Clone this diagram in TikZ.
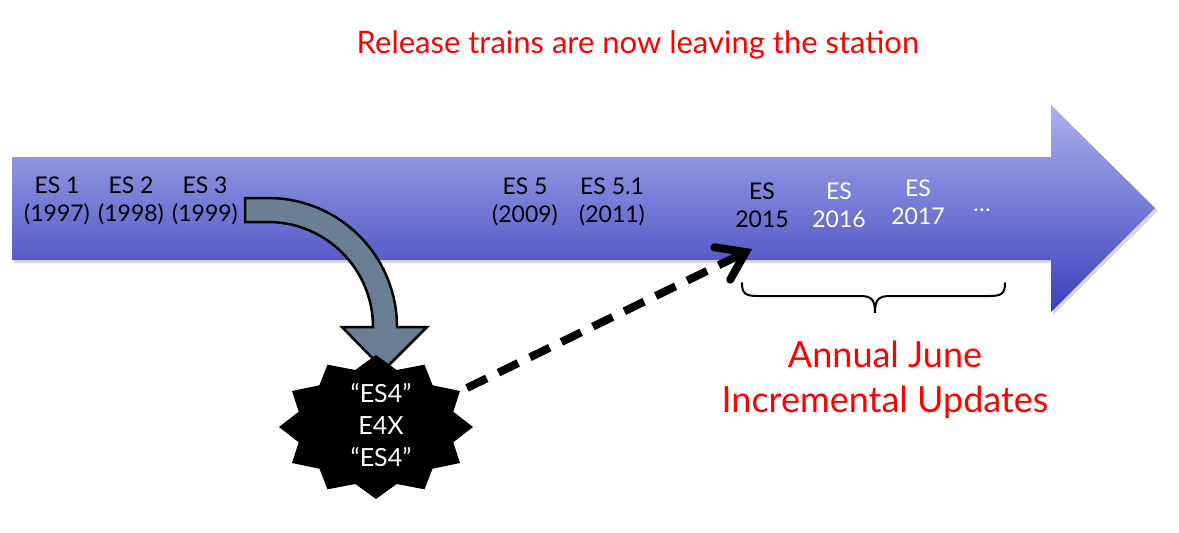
\documentclass[tikz,border=0pt]{standalone}
\usepackage{fontspec}
\setmainfont{Lato}
\usetikzlibrary{arrows.meta}
\definecolor{arrtop}{RGB}{172,176,238}
\definecolor{arrbot}{RGB}{58,64,188}
\definecolor{slate}{RGB}{106,126,148}
\definecolor{titlered}{RGB}{255,0,0}
\begin{document}
\begin{tikzpicture}[x=1pt,y=-1pt,
  lbl/.style={font=\fontsize{23}{28}\selectfont, align=center, inner sep=0pt},
  wlbl/.style={lbl, text=white},
  redtxt/.style={text=titlered, inner sep=0pt, align=center}]
\useasboundingbox (0,0) rectangle (1179,533);
\fill[white] (0,0) rectangle (1179,533);
% big timeline arrow shadow
\fill[black!30, opacity=0.5] (14,160) -- (1053,160) -- (1053,108) -- (1158,211) -- (1053,315) -- (1053,263) -- (14,263) -- cycle;
% big timeline arrow
\shade[top color=arrtop, bottom color=arrbot] (12,157) -- (1051,157) -- (1051,105) -- (1155,208) -- (1051,312) -- (1051,260) -- (12,260) -- cycle;
% title
\node[redtxt, font=\fontsize{31}{34}\selectfont] (title) at (638,45) {Release trains are now leaving the station};
% version labels
\node[lbl] (es1) at (57,201) {ES 1\\(1997)};
\node[lbl] (es2) at (131,201) {ES 2\\(1998)};
\node[lbl] (es3) at (205,201) {ES 3\\(1999)};
\node[lbl] (es5) at (525,202) {ES 5\\(2009)};
\node[lbl] (es51) at (612,202) {ES 5.1\\(2011)};
\node[lbl] (es2015) at (762,205) {ES\\2015};
\node[wlbl] (es2016) at (839,205) {ES\\2016};
\node[wlbl] (es2017) at (918,202) {ES\\2017};
\node[wlbl] (dots) at (982,210) {\dots};
% curved block arrow
\filldraw[fill=slate, draw=black, line width=2.5pt, line join=miter]
  (245,198) -- (268,198) arc[start angle=270, end angle=360, radius=129]
  -- (427,327) -- (384,370) -- (342,327) -- (373,327)
  arc[start angle=360, end angle=270, radius=105] -- (245,222) -- cycle;
% starburst
\fill[black] ([shift={(376,427)}]0:97 and 72)
  \foreach \a in {0,30,...,330} { -- ([shift={(376,427)}]\a:97 and 72) -- ([shift={(376,427)}]\a+15:80 and 59) } -- cycle;
\node[wlbl, font=\fontsize{25}{32}\selectfont] (es4) at (381,425) {“ES4”\\E4X\\“ES4”};
% dashed arrow
\coordinate (dstart) at (467,388);
\coordinate (dend) at (752,249);
\draw[line width=8pt, dash pattern=on 22pt off 13pt,
  -{Straight Barb[length=26pt,width=36pt,line cap=round]}] (dstart) -- (dend);
% brace
\draw[line width=2pt, line cap=round]
  (742,283) .. controls (742,294) and (746,296) .. (758,296) -- (860,296)
  .. controls (872,296) and (875,300) .. (875,313)
  .. controls (875,300) and (878,296) .. (890,296) -- (989,296)
  .. controls (1001,296) and (1005,294) .. (1005,283);
% annual updates
\node[redtxt, font=\fontsize{36}{45}\selectfont] (annual) at (885,380) {Annual June\\Incremental Updates};
\end{tikzpicture}
\end{document}
